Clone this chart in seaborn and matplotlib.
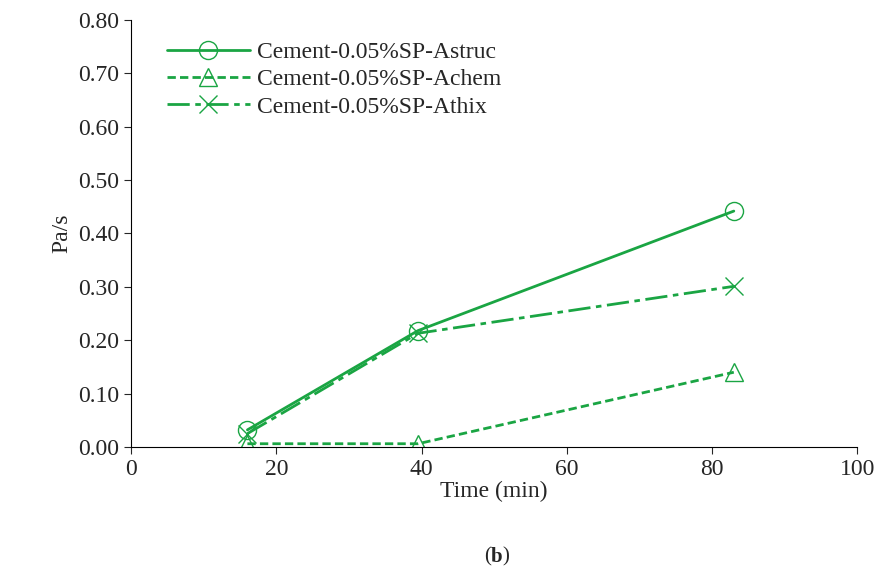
import matplotlib
matplotlib.use("Agg")
import matplotlib.pyplot as plt
import seaborn as sns
import pandas as pd

time_min = [16, 39.5, 83]
astruc = [0.032, 0.218, 0.442]
achem = [0.006, 0.006, 0.140]
athix = [0.025, 0.213, 0.301]
labels = ["Cement-0.05%SP-Astruc", "Cement-0.05%SP-Achem", "Cement-0.05%SP-Athix"]

sns.set_style("white")
plt.rcParams["font.family"] = ["Liberation Serif", "DejaVu Serif"]
green = "#1aa543"

df = pd.DataFrame({
    "time": time_min * 3,
    "value": astruc + achem + athix,
    "series": [labels[0]] * 3 + [labels[1]] * 3 + [labels[2]] * 3,
})

fig = plt.figure(figsize=(8.81, 5.73), dpi=100)
ax = fig.add_axes([0.149, 0.22, 0.824, 0.745])

styles = [("-", "o"), ((0, (3, 1.5)), "^"), ((0, (8, 2, 2, 2)), "x")]
for lab, (ls, mk) in zip(labels, styles):
    sub = df[df.series == lab]
    sns.lineplot(data=sub, x="time", y="value", ax=ax, color=green, linestyle=ls,
                 marker=mk, markersize=13, markerfacecolor="none", markeredgecolor=green,
                 markeredgewidth=1.0, linewidth=2, label=lab)

ax.set_xlim(0, 100)
ax.set_ylim(0, 0.80)
ax.set_xticks(range(0, 101, 20))
ax.set_yticks([i / 10 for i in range(9)])
ax.set_yticklabels([f"{i / 10:.2f}" for i in range(9)])
ax.tick_params(labelsize=17, direction="out", length=5, left=True, bottom=True)
ax.set_xlabel("Time (min)", fontsize=17, labelpad=1)
ax.set_ylabel("Pa/s", fontsize=17)
for s in ["top", "right"]:
    ax.spines[s].set_visible(False)
for s in ["left", "bottom"]:
    ax.spines[s].set_color("black")
    ax.spines[s].set_linewidth(0.8)

ax.legend(loc="upper left", bbox_to_anchor=(0.02, 1.0), frameon=False, fontsize=17,
          handlelength=3.5, handletextpad=0.3, labelspacing=0.25)

fig.text(0.557, 0.02, "(", fontsize=15, ha="right")
fig.text(0.557, 0.02, "b", fontsize=15, fontweight="bold", ha="left")
fig.text(0.570, 0.02, ")", fontsize=15, ha="left")

fig.savefig("out.png", dpi=100)
